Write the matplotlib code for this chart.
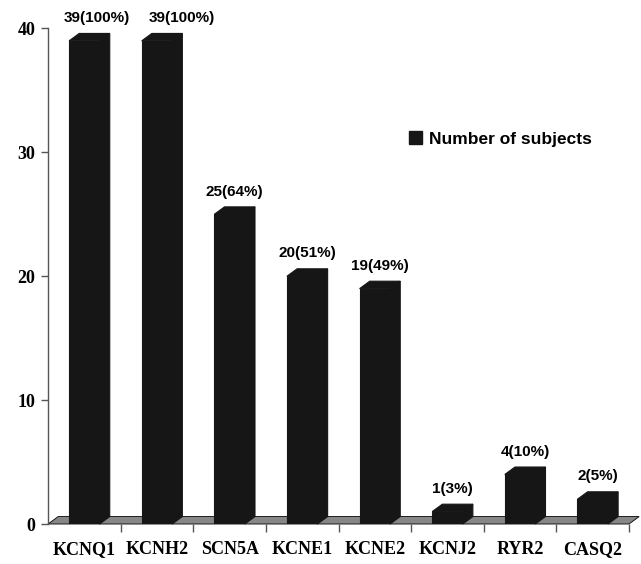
import matplotlib.pyplot as plt
from matplotlib.patches import Polygon, Patch

genes = ["KCNQ1", "KCNH2", "SCN5A", "KCNE1", "KCNE2", "KCNJ2", "RYR2", "CASQ2"]
subjects = [39, 39, 25, 20, 19, 1, 4, 2]
percent = [100, 100, 64, 51, 49, 3, 10, 5]

bar_color = "#161616"
floor_color = "#878787"
axis_color = "#555555"
dx, dy = 0.14, 0.6   # fake 3-D depth in data units
width = 0.42
# the two top labels sit a bit to the right in the original (points)
label_nudge = [5, 14, 0, 0, 0, 0, 0, 0]

fig = plt.figure(figsize=(6.41, 5.64), dpi=100)
ax = fig.add_axes([0.0749, 0.0709, 0.9064, 0.8786])
ax.set_xlim(-0.5, len(genes) - 0.5)
ax.set_ylim(0, 40)

# floor
n = len(genes)
floor = Polygon([(-0.5, 0), (n - 0.5, 0), (n - 0.5 + dx, dy), (-0.5 + dx, dy)],
                closed=True, facecolor=floor_color, edgecolor="black",
                linewidth=0.6, clip_on=False, zorder=1)
ax.add_patch(floor)

# bars: front face + top + side
x = list(range(n))
ax.bar(x, subjects, width=width, color=bar_color, edgecolor=bar_color,
       linewidth=0.8, zorder=3)
for xi, v in zip(x, subjects):
    left, right = xi - width / 2, xi + width / 2
    top = Polygon([(left, v), (left + dx, v + dy), (right + dx, v + dy), (right, v)],
                  closed=True, facecolor=bar_color, edgecolor=bar_color,
                  linewidth=0.8, zorder=3, clip_on=False)
    side = Polygon([(right, 0), (right + dx, dy), (right + dx, v + dy), (right, v)],
                   closed=True, facecolor=bar_color, edgecolor=bar_color,
                   linewidth=0.8, zorder=3, clip_on=False)
    ax.add_patch(top)
    ax.add_patch(side)

for xi, v, p, nx in zip(x, subjects, percent, label_nudge):
    ax.annotate(f"{v}({p}%)", (xi + dx / 2, v + dy), xytext=(nx, 6),
                textcoords="offset points", ha="center", va="bottom",
                fontsize=11, fontweight="bold", family="Liberation Sans",
                annotation_clip=False)

# axes styling
for s in ["top", "right", "bottom"]:
    ax.spines[s].set_visible(False)
ax.spines["left"].set_color(axis_color)
ax.spines["left"].set_linewidth(1.0)

ax.set_yticks([0, 10, 20, 30, 40])
ax.tick_params(axis="y", length=5, width=1, color=axis_color, pad=4)
for lab in ax.get_yticklabels():
    lab.set_fontfamily("Liberation Serif")
    lab.set_fontweight("bold")
    lab.set_fontsize(13)

ax.set_xticks(x)
ax.set_xticklabels(genes, fontfamily="Liberation Serif", fontweight="bold", fontsize=13)
ax.set_xticks([i + 0.5 for i in range(n)], minor=True)
ax.tick_params(axis="x", which="major", length=0, pad=12)
ax.tick_params(axis="x", which="minor", length=6, width=1, color=axis_color)

handle = Patch(facecolor=bar_color, edgecolor=bar_color)
ax.legend([handle], ["Number of subjects"], loc="center left",
          bbox_to_anchor=(0.613, 0.754), bbox_transform=fig.transFigure,
          frameon=False, handlelength=0.8, handleheight=0.8, handletextpad=0.4,
          prop={"family": "Liberation Sans", "weight": "bold", "size": 12.5})

plt.savefig("out.png", dpi=100)
